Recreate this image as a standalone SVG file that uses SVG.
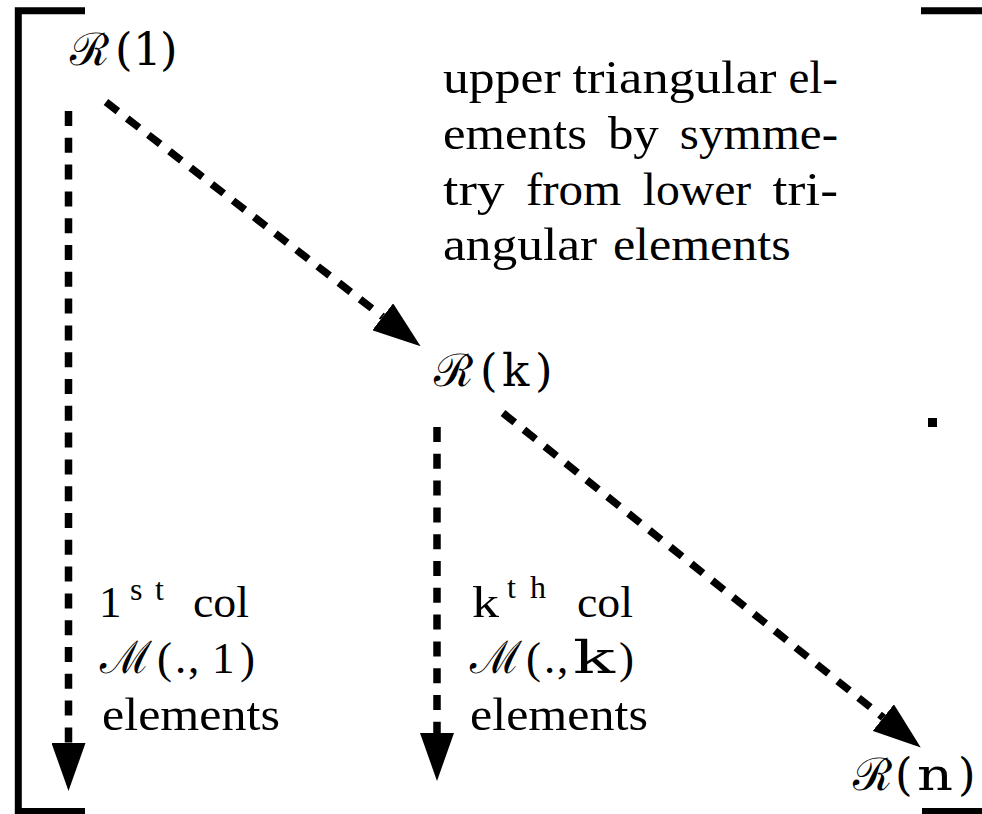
<svg xmlns="http://www.w3.org/2000/svg" width="982" height="814" viewBox="0 0 982 814">
<style>
  .t { font-size: 45px; fill: #000; }
  .p { font-size: 46px; fill: #000; }
  .sup { font-size: 32px; }
  .bracket { fill: none; stroke: #000; stroke-width: 7; stroke-linejoin: miter; }
  .conn { fill: none; stroke: #000; stroke-width: 7.5; stroke-dasharray: 15 11.8; stroke-linecap: butt; }
</style>
<defs>
  <marker id="ah" markerUnits="userSpaceOnUse" viewBox="0 0 48 34" refX="0" refY="17" markerWidth="48" markerHeight="34" orient="auto">
    <path d="M0,0 L48,17 L0,34 z" fill="#000"/>
  </marker>
</defs>
<rect width="982" height="814" fill="#fff"/>

<g id="brackets">
  <path class="bracket" d="M85,10.8 H18.3 V811.5 H85"/>
  <path class="bracket" d="M921,10.8 H990 V811.5 H922"/>
  <rect x="928" y="418" width="9" height="9" fill="#000"/>
</g>

<g id="connectors">
  <line class="conn" x1="68.5" y1="111" x2="68.5" y2="743" marker-end="url(#ah)"/>
  <line class="conn" x1="437" y1="427" x2="437" y2="733" marker-end="url(#ah)"/>
  <line class="conn" x1="106" y1="102" x2="382.7" y2="316.8" marker-end="url(#ah)"/>
  <line class="conn" x1="503" y1="413" x2="883.3" y2="717.6" marker-end="url(#ah)"/>
</g>

<g id="node-R1">
  <text class="t" font-family="DejaVu Serif, serif" y="65"><tspan x="70">ℛ</tspan><tspan x="115">(</tspan><tspan x="133">1</tspan><tspan x="160">)</tspan></text>
</g>

<g id="node-Rk">
  <text class="t" font-family="DejaVu Serif, serif" y="386"><tspan x="434">ℛ</tspan><tspan x="480">(</tspan><tspan x="502">k</tspan><tspan x="535">)</tspan></text>
</g>

<g id="node-Rn">
  <text class="t" font-family="DejaVu Serif, serif" y="790"><tspan x="853">ℛ</tspan><tspan x="895">(</tspan><tspan x="917" textLength="36" lengthAdjust="spacingAndGlyphs">n</tspan><tspan x="958">)</tspan></text>
</g>

<g id="note-upper" font-family="Liberation Serif, serif">
  <text class="p" y="93"><tspan x="443" textLength="117.6" lengthAdjust="spacingAndGlyphs">upper</tspan><tspan x="572.5" textLength="203.9" lengthAdjust="spacingAndGlyphs">triangular</tspan><tspan x="788.4" textLength="49.6" lengthAdjust="spacingAndGlyphs">el-</tspan></text>
  <text class="p" y="149"><tspan x="443" textLength="143.9" lengthAdjust="spacingAndGlyphs">ements</tspan><tspan x="607.9" textLength="50.9" lengthAdjust="spacingAndGlyphs">by</tspan><tspan x="679.8" textLength="158.2" lengthAdjust="spacingAndGlyphs">symme-</tspan></text>
  <text class="p" y="204.5"><tspan x="443" textLength="61.5" lengthAdjust="spacingAndGlyphs">try</tspan><tspan x="525.9" textLength="95.4" lengthAdjust="spacingAndGlyphs">from</tspan><tspan x="642.7" textLength="108.5" lengthAdjust="spacingAndGlyphs">lower</tspan><tspan x="772.6" textLength="65.4" lengthAdjust="spacingAndGlyphs">tri-</tspan></text>
  <text class="p" y="260"><tspan x="443" textLength="154.2" lengthAdjust="spacingAndGlyphs">angular</tspan><tspan x="612.9" textLength="177.8" lengthAdjust="spacingAndGlyphs">elements</tspan></text>
</g>

<g id="note-col1" font-family="Liberation Serif, serif">
  <text class="t" y="617"><tspan x="99">1</tspan><tspan class="sup" x="130" y="600">s</tspan><tspan class="sup" x="155" y="600">t</tspan><tspan x="193" y="617" textLength="56" lengthAdjust="spacingAndGlyphs">col</tspan></text>
  <text class="t" y="673"><tspan font-family="DejaVu Serif, serif" x="100">ℳ</tspan><tspan x="157">(</tspan><tspan x="175">.</tspan><tspan x="188">,</tspan><tspan x="212">1</tspan><tspan x="240">)</tspan></text>
  <text class="p" y="730" x="102" textLength="178" lengthAdjust="spacingAndGlyphs">elements</text>
</g>

<g id="note-colk" font-family="Liberation Serif, serif">
  <text class="t" y="617"><tspan x="472" textLength="27" lengthAdjust="spacingAndGlyphs">k</tspan><tspan class="sup" x="507" y="598">t</tspan><tspan class="sup" x="530" y="598">h</tspan><tspan x="577" y="617" textLength="56" lengthAdjust="spacingAndGlyphs">col</tspan></text>
  <text class="t" y="673"><tspan font-family="DejaVu Serif, serif" x="470">ℳ</tspan><tspan x="526">(</tspan><tspan x="544">.</tspan><tspan x="557">,</tspan><tspan x="573" font-family="DejaVu Serif, serif" textLength="42" lengthAdjust="spacingAndGlyphs">k</tspan><tspan x="619">)</tspan></text>
  <text class="p" y="730" x="470" textLength="178" lengthAdjust="spacingAndGlyphs">elements</text>
</g>
</svg>
